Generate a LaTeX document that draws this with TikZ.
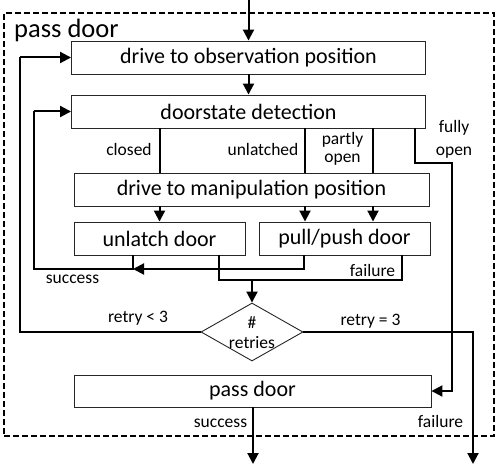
\documentclass[tikz,border=0pt]{standalone}
\usepackage{fontspec}
\setmainfont{Carlito}
\usetikzlibrary{arrows.meta,shapes.geometric}
\tikzset{
  box/.style={draw=black!85, line width=0.9pt, rectangle, minimum height=33, inner sep=0,
    font=\fontsize{22}{26}\selectfont},
  lbl/.style={font=\fontsize{17.5}{20.5}\selectfont, inner sep=0, anchor=base},
  ln/.style={line width=2pt},
  arr/.style={line width=2pt, -{Triangle[length=11pt,width=11pt]}},
}
\begin{document}
\begin{tikzpicture}[x=1pt,y=-1pt]
\useasboundingbox (0,0) rectangle (498,468);
% frame
\node[draw, dashed, line width=1.5pt, dash pattern=on 6pt off 3pt, minimum width=490, minimum height=423, inner sep=0] (frame) at (249,224.5) {};
\node[font=\fontsize{26.5}{30}\selectfont, inner sep=0, anchor=base west] (title) at (14,38) {pass door};
% boxes
\node[box, minimum width=354] (b1) at (248.5,57.5) {drive to observation position};
\node[box, minimum width=354] (b2) at (248.5,111.5) {doorstate detection};
\node[box, minimum width=355] (b3) at (251.5,189.5) {drive to manipulation position};
\node[box, minimum width=171] (b4) at (159.5,238.5) {unlatch door};
\node[box, minimum width=171] (b5) at (344.5,238.5) {pull/push door};
\node[box, minimum width=357, minimum height=32] (b6) at (252.5,391) {pass door};
\node[draw=black!85, line width=0.9pt, diamond, minimum width=102, minimum height=58, inner sep=0] (dia) at (252,332) {};
\node[font=\fontsize{17.5}{20}\selectfont, align=center, inner sep=0] (diat) at (252,333) {\#\\retries};
% coordinates
\coordinate (in) at (248.5,0);
\coordinate (xu) at (305,0);
\coordinate (xp) at (373,0);
\coordinate (fo1) at (415,163);
\coordinate (fo2) at (452,163);
\coordinate (s5) at (304,269);
\coordinate (sj) at (133,269);
\coordinate (sl) at (34,269);
\coordinate (f4) at (219,280);
\coordinate (f5) at (402,280);
\coordinate (rl) at (20,332);
\coordinate (rr) at (473,332);
\coordinate (out1) at (253,464);
\coordinate (out2) at (473,464);
% connectors
\draw[arr] (in) -- (b1.north);
\draw[arr] (b1.south) -- (b2.north);
\draw[ln] (b2.south -| b4.north) -- (b3.north -| b4.north);
\draw[ln] (b2.south -| xu) -- (b3.north -| xu);
\draw[ln] (b2.south -| xp) -- (b3.north -| xp);
\draw[arr] (b3.south -| b4.north) -- (b4.north);
\draw[arr] (b3.south -| xu) -- (b5.north -| xu);
\draw[arr] (b3.south -| xp) -- (b5.north -| xp);
\draw[arr] (b2.south -| fo1) -- (fo1) -- (fo2) |- (b6.east);
\draw[arr] (b5.south -| s5) -- (s5) -- (sj);
\draw[ln] (b4.south -| sj) -- (sj) -- (sl) -- (sl |- b2.west);
\draw[arr] (sl |- b2.west) -- (b2.west);
\draw[ln] (b4.south -| f4) -- (f4) -- (f5) -- (b5.south -| f5);
\draw[arr] (dia.north |- f4) -- (dia.north);
\draw[ln] (dia.west) -- (rl) -- (rl |- b1.west);
\draw[arr] (rl |- b1.west) -- (b1.west);
\draw[arr] (dia.east) -- (rr) -- (out2);
\draw[arr] (b6.south -| out1) -- (out1);
% labels
\node[lbl] (lclosed) at (129,156) {closed};
\node[lbl] (lunl) at (263,156) {unlatched};
\node[lbl, align=center] (lpart) at (342.5,145) {partly};
\node[lbl] (lpart2) at (342.5,162.5) {open};
\node[lbl] (lfully) at (454,133) {fully};
\node[lbl] (lfully2) at (454,155.5) {open};
\node[lbl] (lsucc1) at (72.5,283) {success};
\node[lbl] (lfail1) at (372.5,276) {failure};
\node[lbl] (lr1) at (138,322) {retry < 3};
\node[lbl] (lr2) at (370.5,325) {retry = 3};
\node[lbl] (lsucc2) at (220.5,427) {success};
\node[lbl] (lfail2) at (440.5,427) {failure};
\end{tikzpicture}
\end{document}
